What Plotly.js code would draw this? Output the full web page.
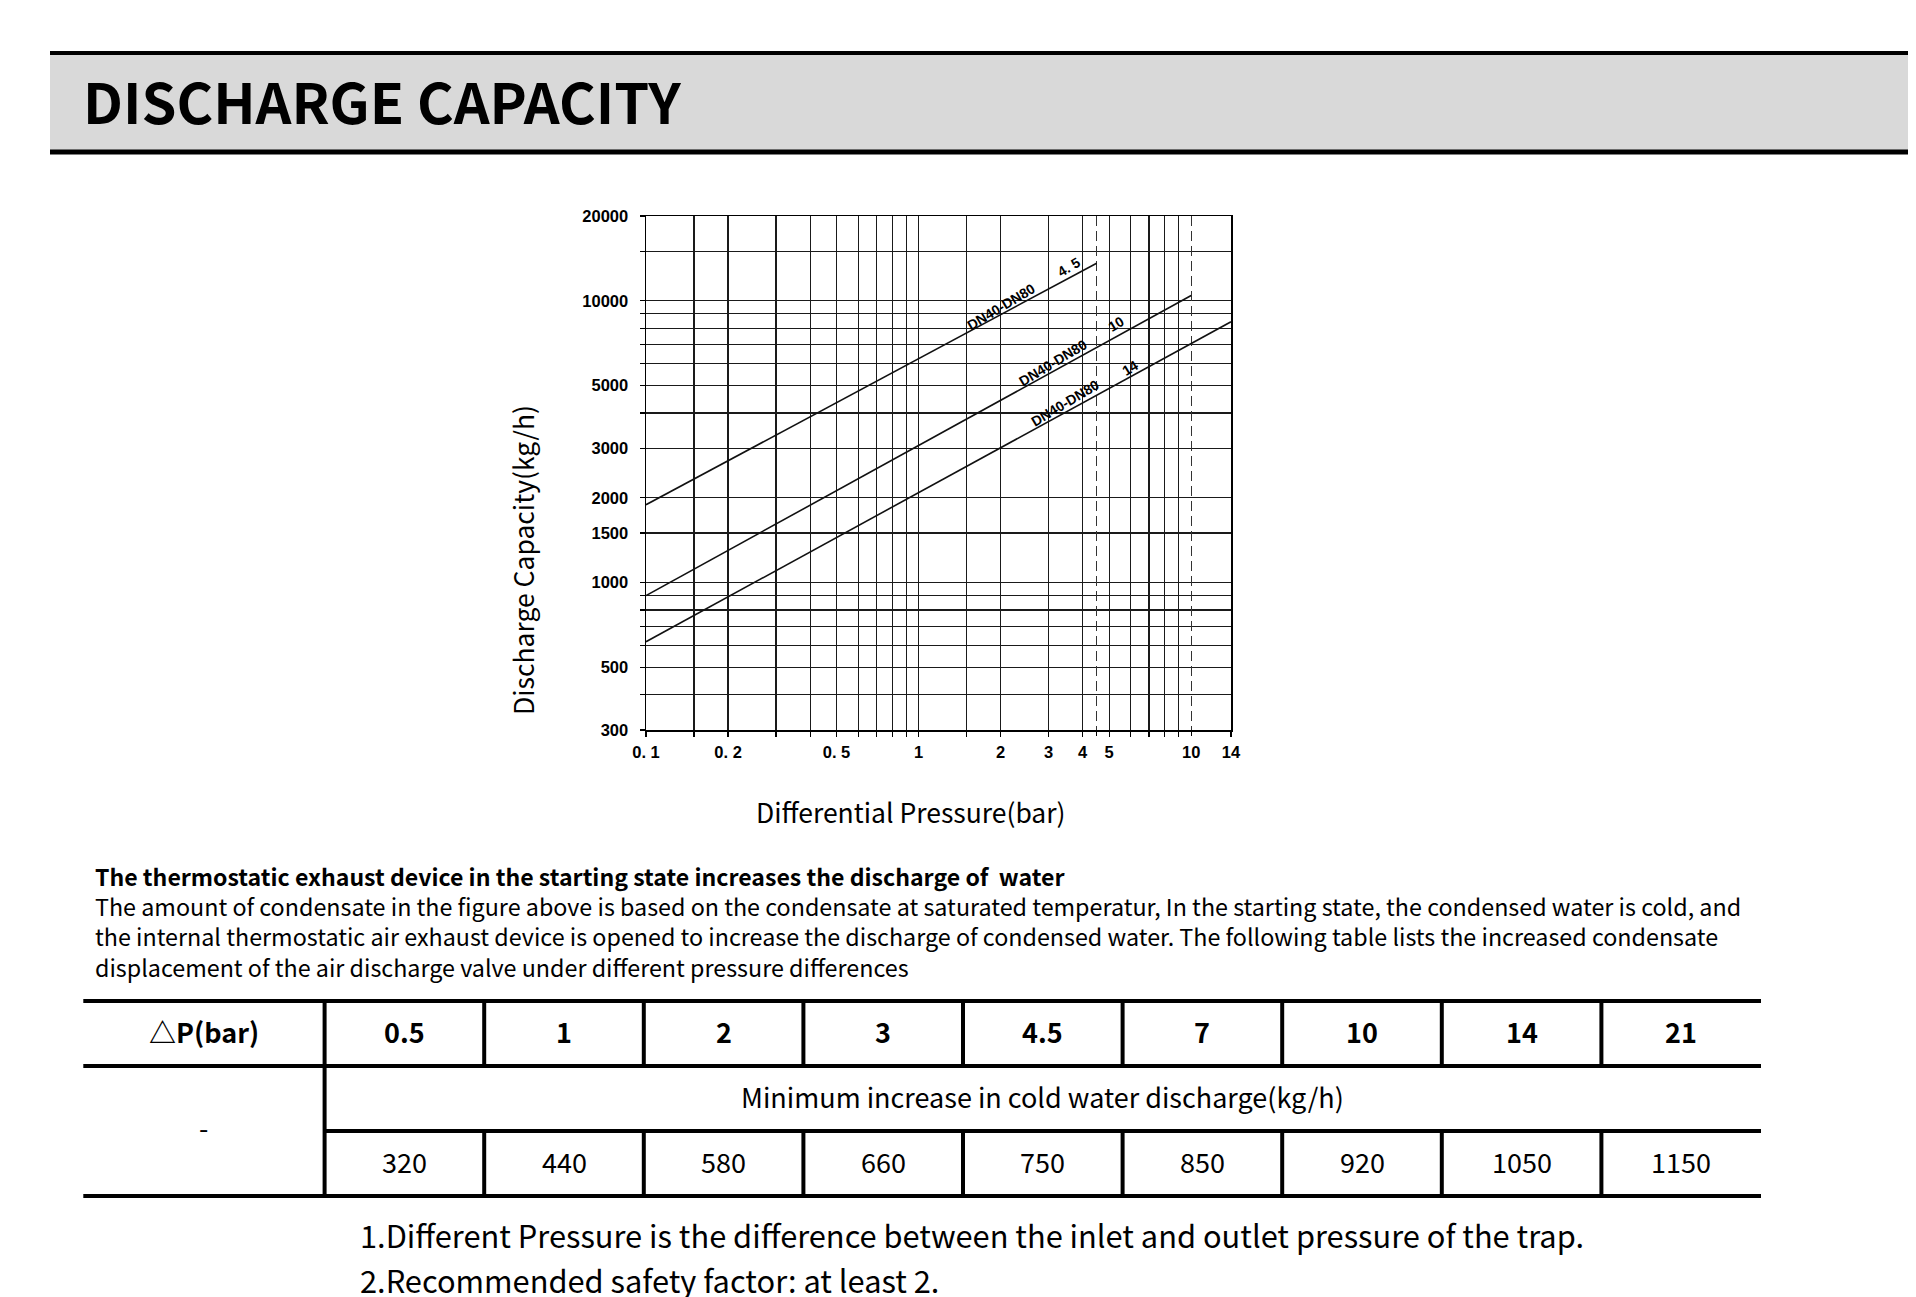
<!DOCTYPE html>
<html>
<head>
<meta charset="utf-8">
<script src="https://cdn.plot.ly/plotly-3.0.1.min.js"></script>
<style>body{margin:0;background:#fff}</style>
</head>
<body>
<div id="chart" style="width:1916px;height:1297px"></div>
<script>
// discharge capacity curves (DN40-DN80)
const pressure45 = [0.1, 4.5];
const capacity45 = [1890, 13600];
const pressure10 = [0.1, 10];
const capacity10 = [900, 10450];
const pressure14 = [0.1, 14];
const capacity14 = [617, 8430];

// grid lines and tick labels
const xGrid = [0.1, 0.15, 0.2, 0.3, 0.4, 0.5, 0.6, 0.7, 0.8, 0.9, 1, 1.5, 2, 3, 4, 5, 6, 7, 8, 9, 14];
const xLabels = ['0. 1', '', '0. 2', '', '', '0. 5', '', '', '', '', '1', '', '2', '3', '4', '5', '', '', '', '', '14'];
const xDashed = [4.5, 10];
const xDashedLabels = ['', '10'];
const yGrid = [300, 400, 500, 600, 700, 800, 900, 1000, 1500, 2000, 3000, 4000, 5000, 6000, 7000, 8000, 9000, 10000, 15000, 20000];
const yLabels = ['300', '', '500', '', '', '', '', '1000', '1500', '2000', '3000', '', '5000', '', '', '', '', '10000', '', '20000'];

// starting state table
const dpBar = ['0.5', '1', '2', '3', '4.5', '7', '10', '14', '21'];
const coldWater = [320, 440, 580, 660, 750, 850, 920, 1050, 1150];

const W = 1916, H = 1297;
function px(v) { return v / W; }
function py(v) { return 1 - v / H; }

var narrow = '"Liberation Sans", Arial, sans-serif';
var sans = '"Noto Sans CJK SC", "Noto Sans", sans-serif';
var tickFont = {family: narrow, size: 16.5, color: '#000', weight: 'bold'};
var curve = {color: '#111', width: 1.6};

var data = [
  {x: pressure45, y: capacity45, type: 'scatter', mode: 'lines', line: curve, hoverinfo: 'skip'},
  {x: pressure10, y: capacity10, type: 'scatter', mode: 'lines', line: curve, hoverinfo: 'skip', xaxis: 'x2'},
  {x: pressure14, y: capacity14, type: 'scatter', mode: 'lines', line: curve, hoverinfo: 'skip'}
];

var annotations = [];
function note(text, x, y, size, opts) {
  annotations.push(Object.assign({
    text: text, x: px(x), y: py(y), xref: 'paper', yref: 'paper', showarrow: false,
    xanchor: 'center', yanchor: 'middle', font: {family: sans, size: size, color: '#000'}
  }, opts || {}));
}
function curveLabel(text, x, y) {
  annotations.push({
    text: text, x: Math.log10(x), y: Math.log10(y), xref: 'x', yref: 'y', showarrow: false,
    textangle: -31, font: {family: narrow, size: 14, color: '#000', weight: 'bold'}
  });
}

curveLabel('DN40-DN80', 2.0, 9500);
curveLabel('4. 5', 3.55, 13200);
curveLabel('DN40-DN80', 3.1, 6000);
curveLabel('10', 5.3, 8300);
curveLabel('DN40-DN80', 3.45, 4330);
curveLabel('14', 5.95, 5800);

note('DISCHARGE CAPACITY', 81, 99, 56, {xanchor: 'left', font: {family: sans, size: 56, color: '#000', weight: 'bold'}});
note('Discharge Capacity(kg/h)', 523, 560, 26.5, {textangle: -90});
note('Differential Pressure(bar)', 911, 812, 26.5);

note('The thermostatic exhaust device in the starting state increases the discharge of  water', 93, 875.5, 23.1,
  {xanchor: 'left', font: {family: sans, size: 23.1, color: '#000', weight: 'bold'}});
note('The amount of condensate in the figure above is based on the condensate at saturated temperatur, In the starting state, the condensed water is cold, and<br>' +
  'the internal thermostatic air exhaust device is opened to increase the discharge of condensed water. The following table lists the increased condensate<br>' +
  'displacement of the air discharge valve under different pressure differences', 93, 936.5, 23.3, {xanchor: 'left', align: 'left'});

// table
var tLeft = 83.3, tSplit = 324.6, tRight = 1761;
var colW = (tRight - tSplit) / dpBar.length;
var rTop = 1001, r1 = 1066, r2 = 1131, rBot = 1196;
var bold27 = {family: sans, size: 27, color: '#000', weight: 'bold'};
note('△P(bar)', (tLeft + tSplit) / 2, (rTop + r1) / 2 - 2, 27, {font: bold27});
note('-', (tLeft + tSplit) / 2, (r1 + rBot) / 2 - 4, 27);
note('Minimum increase in cold water discharge(kg/h)', (tSplit + tRight) / 2, (r1 + r2) / 2 - 2, 27);
dpBar.forEach(function (d, i) {
  var cx = tSplit + colW * (i + 0.5);
  note(d, cx, (rTop + r1) / 2 - 2, 27, {font: bold27});
  note(String(coldWater[i]), cx, (r2 + rBot) / 2 - 2, 27);
});

note('1.Different Pressure is the difference between the inlet and outlet pressure of the trap.', 358, 1234.5, 30.8, {xanchor: 'left'});
note('2.Recommended safety factor: at least 2.', 358, 1279, 30.8, {xanchor: 'left'});

var shapes = [];
function hline(x0, x1, y, w) {
  shapes.push({type: 'line', xref: 'paper', yref: 'paper', x0: px(x0), x1: px(x1), y0: py(y), y1: py(y), line: {color: '#000', width: w}});
}
function vline(x, y0, y1, w) {
  shapes.push({type: 'line', xref: 'paper', yref: 'paper', x0: px(x), x1: px(x), y0: py(y0), y1: py(y1), line: {color: '#000', width: w}});
}
// header band
shapes.push({type: 'rect', xref: 'paper', yref: 'paper', x0: px(50), x1: px(1908), y0: py(55), y1: py(150),
  fillcolor: '#d9d9d9', line: {width: 0}, layer: 'below'});
hline(50, 1908, 53, 4);
hline(50, 1908, 152, 5);
// table rules
hline(tLeft, tRight, rTop, 4);
hline(tLeft, tRight, r1, 4);
hline(tSplit, tRight, r2, 4);
hline(tLeft, tRight, rBot, 4);
vline(tSplit, rTop, rBot, 4);
for (var i = 1; i < dpBar.length; i++) {
  vline(tSplit + colW * i, rTop, r1, 4);
  vline(tSplit + colW * i, r2, rBot, 4);
}

var axisCommon = {
  type: 'log', tickmode: 'array', showgrid: true, gridcolor: '#1a1a1a', gridwidth: 1.2,
  ticks: 'outside', ticklen: 5, tickcolor: '#000', tickwidth: 1.2, zeroline: false, tickfont: tickFont
};

var layout = {
  width: W, height: H,
  margin: {l: 0, r: 0, t: 0, b: 0},
  paper_bgcolor: '#fff', plot_bgcolor: '#fff',
  showlegend: false,
  xaxis: Object.assign({}, axisCommon, {
    range: [-1, Math.log10(14)], domain: [px(646), px(1231)], anchor: 'y',
    tickvals: xGrid, ticktext: xLabels, showline: true, linecolor: '#000', linewidth: 1.5, mirror: true,
    ticklabelstandoff: 2
  }),
  xaxis2: Object.assign({}, axisCommon, {
    range: [-1, Math.log10(14)], overlaying: 'x', anchor: 'y', side: 'bottom',
    tickvals: xDashed, ticktext: xDashedLabels, griddash: '10px,5px', gridcolor: '#333', showline: false,
    ticklabelstandoff: 2
  }),
  yaxis: Object.assign({}, axisCommon, {
    range: [Math.log10(300), Math.log10(20000)], domain: [py(730), py(216)], anchor: 'x',
    tickvals: yGrid, ticktext: yLabels, showline: true, linecolor: '#000', linewidth: 1.5, mirror: true,
    ticklabelstandoff: 8
  }),
  annotations: annotations,
  shapes: shapes
};

Plotly.newPlot('chart', data, layout, {displayModeBar: false, staticPlot: true});
</script>
</body>
</html>
